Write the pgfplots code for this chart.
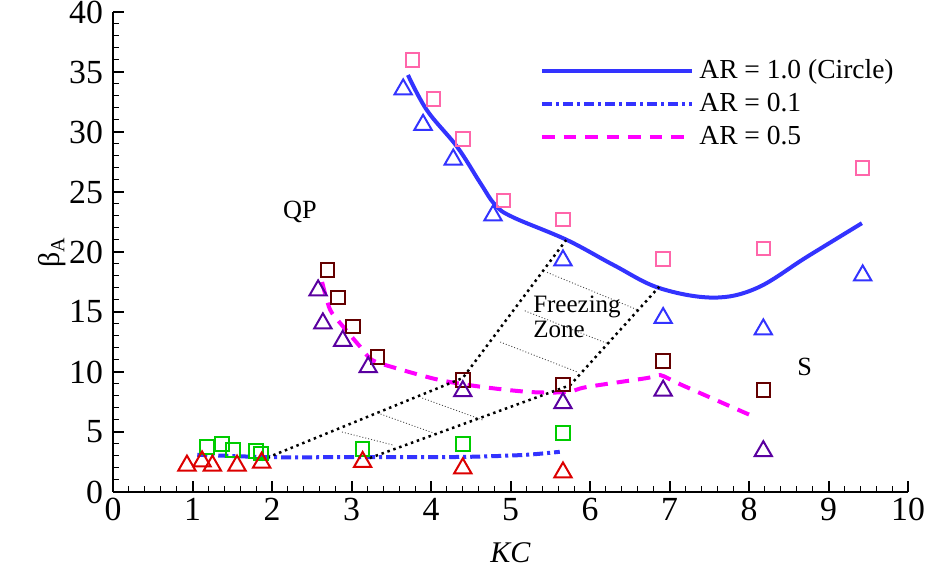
\documentclass[border=0pt]{standalone}
\usepackage{fontspec}
\setmainfont{Liberation Serif}
\usepackage{pgfplots}
\pgfplotsset{compat=1.18}
\usetikzlibrary{calc}

\definecolor{cblue}{RGB}{51,51,255}
\definecolor{cmag}{RGB}{255,0,255}
\definecolor{cpink}{RGB}{255,102,170}
\definecolor{cmaroon}{RGB}{100,0,0}
\definecolor{cpurple}{RGB}{90,0,160}
\definecolor{cgreen}{RGB}{0,204,0}
\definecolor{cred}{RGB}{220,0,0}

\begin{document}
\begin{tikzpicture}
\begin{axis}[
    name=ax,
    width=318pt, height=192pt,
    scale only axis,
    xmin=0, xmax=10, ymin=0, ymax=40,
    xtick={0,1,...,10}, ytick={0,5,...,40},
    minor x tick num=4, minor y tick num=4,
    axis lines*=left,
    axis line style={line width=1pt},
    tick align=inside,
    major tick length=4.4pt, minor tick length=2.2pt,
    every major tick/.style={line width=0.8pt, black},
    every minor tick/.style={line width=0.4pt, black},
    /pgf/number format/assume math mode=true,
    tick label style={font=\fontsize{13.5}{15}\selectfont},
    xticklabel style={yshift=1pt},
    yticklabel style={xshift=-0.5pt},
    xlabel={\textit{KC}}, ylabel={β\textsubscript{A}},
    every axis x label/.style={at={(axis description cs:0.5,-0.127)}, anchor=center},
    every axis y label/.style={at={(axis description cs:-0.076,0.5)}, rotate=90, anchor=center},
    label style={font=\fontsize{12}{14}\selectfont},
    clip=false,
    legend style={at={(0.537,0.912)}, anchor=north west, draw=none, fill=none,
        font=\fontsize{11}{12}\selectfont, row sep=0.3pt, inner sep=0pt},
    legend cell align=left,
    legend image code/.code={\draw[#1] (0pt,0pt) -- (51pt,0pt); \path (0pt,0pt) -- (60pt,0pt);},
]

% line fits
\addplot[cblue, line width=1.6pt, smooth, tension=0.6] coordinates {
    (3.71,34.75) (3.95,31.8) (4.33,28.75) (4.62,25.75) (4.81,23.9) (5.03,22.9)
    (5.71,21.0) (6.30,18.9) (6.87,17.0) (7.55,16.2) (8.10,17.0) (8.73,19.6) (9.42,22.4)
};
\addlegendentry{AR = 1.0 (Circle)}

\addplot[cblue, line width=1.6pt, dash pattern=on 4pt off 1.6pt on 1.2pt off 1.6pt, smooth] coordinates {
    (1.06,3.1) (1.5,3.0) (2.0,2.9) (3.0,2.9) (4.0,2.9) (4.6,2.95) (5.2,3.1) (5.62,3.35)
};
\addlegendentry{AR = 0.1}

\addplot[cmag, line width=1.6pt, dash pattern=on 5pt off 3.6pt, smooth, tension=0.5] coordinates {
    (2.63,17.5) (2.73,15.2) (2.88,13.9) (3.11,12.1) (3.26,11.0) (3.57,10.3) (4.11,9.33)
    (4.65,8.75) (5.25,8.33) (5.71,8.33) (5.96,8.75) (6.72,9.5) (6.88,9.75) (7.16,8.9) (8.07,6.25)
};
\addlegendentry{AR = 0.5}

% freezing zone boundaries
\addplot[black, line width=1pt, dash pattern=on 1pt off 1.5pt, forget plot] coordinates {
    (1.87,2.67) (4.40,9.5) (5.70,21.0)
};
\addplot[black, line width=1pt, dash pattern=on 1pt off 1.5pt, forget plot] coordinates {
    (3.23,2.83) (5.75,8.9) (6.87,17.1)
};
% hatch
\addplot[black!70, line width=0.35pt, dash pattern=on 0.4pt off 0.8pt, forget plot] coordinates {(2.88,5.0) (3.52,3.92)};
\addplot[black!70, line width=0.35pt, dash pattern=on 0.4pt off 0.8pt, forget plot] coordinates {(3.33,6.58) (4.03,4.92)};
\addplot[black!70, line width=0.35pt, dash pattern=on 0.4pt off 0.8pt, forget plot] coordinates {(3.89,7.83) (4.65,6.0)};
\addplot[black!70, line width=0.35pt, dash pattern=on 0.4pt off 0.8pt, forget plot] coordinates {(4.87,12.5) (5.84,10.0)};
\addplot[black!70, line width=0.35pt, dash pattern=on 0.4pt off 0.8pt, forget plot] coordinates {(5.18,15.1) (6.21,12.4)};
\addplot[black!70, line width=0.35pt, dash pattern=on 0.4pt off 0.8pt, forget plot] coordinates {(5.46,18.3) (6.59,15.2)};

% markers
\addplot[only marks, mark=square, mark size=2.7pt, mark options={cpink, line width=0.8pt}, forget plot] coordinates {
    (3.77,36.0) (4.03,32.75) (4.40,29.4) (4.91,24.3) (5.66,22.7) (6.92,19.4) (8.18,20.3) (9.43,27.0)
};
\addplot[only marks, mark=triangle, mark size=4pt, mark options={cblue, line width=0.8pt}, forget plot] coordinates {
    (3.65,33.55) (3.90,30.6) (4.28,27.7) (4.78,23.05) (5.66,19.3) (6.92,14.5) (8.18,13.55) (9.43,18.05)
};
\addplot[only marks, mark=square, mark size=2.7pt, mark options={cmaroon, line width=0.8pt}, forget plot] coordinates {
    (2.70,18.5) (2.83,16.2) (3.02,13.8) (3.33,11.25) (4.40,9.35) (5.66,8.95) (6.92,10.9) (8.18,8.5)
};
\addplot[only marks, mark=triangle, mark size=4pt, mark options={cpurple, line width=0.8pt}, forget plot] coordinates {
    (2.58,16.8) (2.64,14.05) (2.89,12.6) (3.21,10.4) (4.40,8.4) (5.66,7.4) (6.92,8.45) (8.18,3.4)
};
\addplot[only marks, mark=square, mark size=2.7pt, mark options={cgreen, line width=0.8pt}, forget plot] coordinates {
    (1.18,3.75) (1.37,4.0) (1.51,3.5) (1.80,3.4) (1.86,3.2) (3.14,3.6) (4.40,4.0) (5.66,4.9)
};
\addplot[only marks, mark=triangle, mark size=4pt, mark options={cred, line width=0.8pt}, forget plot] coordinates {
    (0.93,2.2) (1.12,2.55) (1.25,2.2) (1.56,2.2) (1.87,2.45) (3.14,2.5) (4.40,1.97) (5.66,1.63)
};

\node[font=\fontsize{10.5}{12}\selectfont] at (axis cs:2.35,23.3) {QP};
\node[font=\fontsize{10.5}{12}\selectfont] at (axis cs:8.70,10.4) {S};
\node[font=\fontsize{10}{10}\selectfont, align=left, anchor=west, inner sep=0pt] at (axis cs:5.28,14.6) {Freezing\\Zone};
\end{axis}
\pgfresetboundingbox
\path[use as bounding box] ($(ax.south west)+(-45.2pt,-30pt)$) rectangle ($(ax.north east)+(8pt,4.8pt)$);
\end{tikzpicture}
\end{document}
